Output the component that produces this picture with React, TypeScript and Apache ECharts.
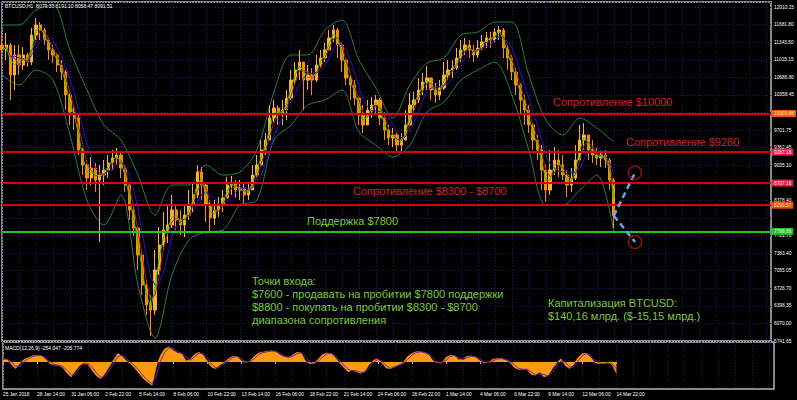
import React, { useEffect, useRef } from 'react';
import * as echarts from 'echarts';

// ---------- DATA ----------
// time labels every 64 hours (8 bars of 8 h), first bar 25 Jan 2018 22:00
const TIME_LABELS = ['25 Jan 2018', '28 Jan 14:00', '31 Jan 06:00', '2 Feb 22:00', '5 Feb 14:00', '8 Feb 06:00', '10 Feb 22:00', '13 Feb 14:00', '16 Feb 06:00', '18 Feb 22:00', '21 Feb 14:00', '24 Feb 06:00', '26 Feb 22:00', '1 Mar 14:00', '4 Mar 06:00', '6 Mar 22:00', '9 Mar 14:00', '12 Mar 06:00', '14 Mar 22:00'];

const PRICE_LABELS = ['5741.65', '6070.00', '6398.35', '6726.70', '7055.05', '7383.40', '7721.70', '8050.05', '8378.40', '8706.75', '9035.10', '9362.45', '9701.75', '10030.10', '10358.45', '10686.80', '11015.15', '11343.50', '11681.80', '12010.15'];
const PRICE_MIN = 5741.65;
const PRICE_STEP = 329.92;
const PRICE_MAX = 12104.7;

const MACD_TICKS = [337.455, 0, -498.85];
const MACD_TICK_LABELS = ['337.455', '0.00', '-498.85'];
const MACD_MIN = -611.87;
const MACD_MAX = 450.47;

// 8-hour candles: [open, close, low, high]
const CANDLES: number[][] = [
  [11297, 11204, 10922, 11485], [11204, 11297, 11016, 11523], [11297, 10734, 10265, 11335], [10734, 11110, 10453, 11297],
  [11110, 10922, 10734, 11297], [10922, 11110, 10828, 11260], [11110, 10978, 10885, 11147], [10978, 11485, 10922, 11617],
  [11485, 11673, 11391, 11804], [11673, 11579, 11391, 11729], [11579, 11391, 11297, 11617], [11391, 11204, 11016, 11429],
  [11204, 11110, 10959, 11297], [11110, 10922, 10791, 11147], [10922, 10791, 10640, 11016], [10791, 10359, 10077, 10828],
  [10359, 10040, 9796, 10396], [10040, 9927, 9702, 10171], [9927, 9327, 9233, 9983], [9327, 9045, 8857, 9364],
  [9045, 8801, 8576, 9139], [8801, 8989, 8670, 9195], [8989, 8763, 8538, 9082], [8763, 8857, 7600, 9045],
  [8857, 8951, 8670, 9139], [8951, 9082, 8801, 9233], [9082, 9176, 8951, 9327], [9176, 9233, 9045, 9364],
  [9233, 8989, 8801, 9289], [8989, 8670, 8538, 9045], [8670, 8200, 8013, 8707], [8200, 7862, 7712, 8294],
  [7862, 7356, 7074, 7881], [7356, 6793, 6605, 7450], [6793, 6417, 6230, 6886], [6417, 6323, 5835, 6605],
  [6323, 7074, 6230, 7450], [7074, 7543, 6980, 7881], [7543, 7825, 7450, 8163], [7825, 7919, 7581, 8294],
  [7919, 8200, 7862, 8482], [8200, 8013, 7825, 8294], [8013, 7919, 7731, 8200], [7919, 8106, 7694, 8294],
  [8106, 8294, 8013, 8576], [8294, 8482, 8163, 8707], [8482, 8914, 8425, 9045], [8914, 8670, 8388, 9007],
  [8670, 8294, 7975, 8707], [8294, 8050, 7787, 8388], [8050, 8200, 7919, 8388], [8200, 8294, 8069, 8444],
  [8294, 8425, 8163, 8576], [8425, 8670, 8425, 8820], [8670, 8707, 8482, 8838], [8707, 8576, 8425, 8763],
  [8576, 8613, 8388, 8763], [8613, 8482, 8332, 8707], [8482, 8576, 8388, 8726], [8576, 8857, 8576, 9045],
  [8857, 9045, 8801, 9233], [9045, 9327, 9045, 9514], [9327, 9514, 9233, 9646], [9514, 9927, 9514, 10171],
  [9927, 10115, 9852, 10265], [10115, 9983, 9796, 10171], [9983, 10077, 9796, 10265], [10077, 10303, 9890, 10453],
  [10303, 10640, 10265, 10828], [10640, 10828, 10547, 10978], [10828, 10978, 10640, 11204], [10978, 10640, 10077, 10978],
  [10640, 10734, 10453, 10922], [10734, 10640, 10359, 10866], [10640, 10922, 10603, 11110], [10922, 11053, 10866, 11204],
  [11053, 11204, 10978, 11335], [11204, 11429, 11204, 11579], [11429, 11579, 11354, 11673], [11579, 11297, 11053, 11617],
  [11297, 11016, 10791, 11335], [11016, 10678, 10547, 11053], [10678, 10547, 10265, 10734], [10547, 10303, 10171, 10640],
  [10303, 9983, 9796, 10303], [9983, 9796, 9646, 10171], [9796, 10077, 9796, 10265], [10077, 10171, 9927, 10321],
  [10171, 10265, 9983, 10359], [10265, 9927, 9796, 10303], [9927, 9702, 9514, 10040], [9702, 9552, 9420, 9796],
  [9552, 9608, 9383, 9740], [9608, 9420, 9270, 9664], [9420, 9514, 9270, 9646], [9514, 9796, 9514, 10077],
  [9796, 10171, 9796, 10396], [10171, 10265, 10040, 10415], [10265, 10453, 10209, 10678], [10453, 10603, 10359, 10772],
  [10603, 10678, 10453, 10903], [10678, 10453, 10265, 10678], [10453, 10359, 10209, 10584], [10359, 10490, 10265, 10640],
  [10490, 10734, 10453, 10978], [10734, 10828, 10640, 11016], [10828, 10866, 10678, 11016], [10866, 11053, 10828, 11241],
  [11053, 11204, 10978, 11391], [11204, 11297, 11110, 11429], [11297, 11204, 11053, 11391], [11204, 11110, 10978, 11297],
  [11110, 11241, 11053, 11391], [11241, 11354, 11204, 11485], [11354, 11429, 11241, 11541], [11429, 11391, 11241, 11541],
  [11391, 11541, 11354, 11617], [11541, 11579, 11391, 11654], [11579, 11241, 11053, 11617], [11241, 11053, 10828, 11297],
  [11053, 10791, 10640, 11110], [10791, 10547, 10359, 10866], [10547, 10265, 9983, 10584], [10265, 10077, 9796, 10359],
  [10077, 9796, 9646, 10171], [9796, 9514, 9327, 9833], [9514, 9327, 9139, 9608], [9327, 8951, 8576, 9420],
  [8951, 8576, 8350, 9045], [8576, 8951, 8482, 9327], [8951, 9139, 8857, 9383], [9139, 9045, 8820, 9327],
  [9045, 8857, 8763, 9233], [8857, 8670, 8444, 8951], [8670, 8801, 8538, 8989], [8801, 9139, 8763, 9420],
  [9139, 9514, 9139, 9796], [9514, 9608, 9327, 9833], [9608, 9327, 9139, 9608], [9327, 9233, 9082, 9514],
  [9233, 9176, 9045, 9364], [9176, 9233, 9007, 9327], [9233, 9139, 8989, 9327], [9139, 8763, 8576, 9176],
  [8763, 8091.51, 7862, 8800],
];

// Bollinger bands, read every 4 bars
const BB_STEP = 4;
const BB_UPPER = [11673, 11673, 11954, 12048, 11204, 10453, 9796, 9514, 8857, 8106, 8670, 8670, 9045, 8857, 8914, 9327, 10415, 11110, 11110, 11579, 11767, 11016, 10490, 9927, 10547, 10959, 11053, 11485, 11541, 11729, 11729, 10734, 9890, 9608, 9927, 9740, 9477];
const BB_LOWER = [10734, 10547, 10828, 10640, 9608, 8388, 7919, 8482, 6793, 5798, 6980, 7637, 7787, 7825, 8294, 8388, 9514, 9796, 10171, 10265, 10453, 9665, 9420, 9195, 9420, 10040, 10227, 10640, 10828, 10978, 10359, 9327, 8294, 8294, 8576, 8857, 7787];

// MACD main values per bar
const MACD = [
  60, 60, -60, -150, -30, 60, 100, 140, 150, 140,
  60, -30, -70, -75, -120, -250, -340, -200, -80, -20,
  -60, -200, -320, -380, -250, -100, 50, 190, 120, 20,
  -40, -150, -260, -380, -460, -527, -100, 150, 300, 340,
  260, 200, 180, 20, 60, 170, 220, 150, 10, -120,
  -150, -60, -10, 80, 130, 120, 20, -10, 20, 130,
  200, 220, 240, 250, 230, 160, 110, 100, 150, 220,
  200, 20, -30, -40, 60, 160, 200, 190, 100, -20,
  -120, -220, -180, -220, -260, -200, -60, 40, 70, -30,
  -140, -150, -90, -60, -10, 120, 190, 230, 230, 200,
  150, 20, -20, -20, 100, 150, 140, 50, 60, 130,
  130, 100, 20, -20, -10, 60, 75, 75, 40, -10,
  -120, -170, -160, -170, -280, -300, -230, -340, -300, -150,
  -20, 70, -80, -150, -60, 100, 190, 190, 100, -20,
  -40, -30, -20, -60, -254,
];

const LEVEL_PRICES = [10009.88, 9287.18, 8707.16, 8290.57, 7798.86];
const LAST_PRICE = 8091.51;
const PROJ_X = [144, 149];
const PROJ_UP = [8091.51, 8900];
const PROJ_DOWN = [8091.51, 7600];

// ---------- STYLES ----------
const N_CATEGORIES = 182;
const FONT = '"Liberation Sans", Arial, sans-serif';
const GRID_COLOR = '#1e1e66';
const FRAME = '#b4b4b4';
const LEVEL_LINE_COLORS = ['#d80000', '#d80000', '#d80000', '#e00000', '#22c422'];
const LEVEL_TAG_BG = ['#ff5a00', '#e8204f', '#e01f4a', '#ff4800', '#22c422'];
const LEVEL_TAG_TEXT = ['#ffe6d0', '#ffe0e8', '#ffe0e8', '#ffe6d0', '#d8ffd8'];
const RED_TEXT = '#d42020';
const GREEN_TEXT = '#7cc83c';
const TAG_COVER = 60; // price distance under which an axis label is hidden by a price tag

const ANNOTATIONS = [
  { text: 'Сопротивление $10000', x: 553, y: 102, color: RED_TEXT },
  { text: 'Сопротивление $9280', x: 626, y: 142, color: RED_TEXT },
  { text: 'Сопротивление $8300 - $8700', x: 353, y: 191, color: RED_TEXT },
  { text: 'Поддержка $7800', x: 307, y: 221, color: GREEN_TEXT },
  { text: 'Точки входа:', x: 252, y: 281, color: GREEN_TEXT },
  { text: '$7600 - продавать на пробитии $7800 поддержки', x: 252, y: 294, color: GREEN_TEXT },
  { text: '$8800 - покупать на пробитии $8300 - $8700', x: 252, y: 307, color: GREEN_TEXT },
  { text: 'диапазона сопротивления', x: 252, y: 320, color: GREEN_TEXT },
  { text: 'Капитализация BTCUSD:', x: 548, y: 303, color: GREEN_TEXT },
  { text: '$140,16 млрд. ($-15,15 млрд.)', x: 548, y: 316, color: GREEN_TEXT },
];

function movingAverage(period: number) {
  return CANDLES.map((_, i) => {
    const from = Math.max(0, i - period + 1);
    let s = 0;
    for (let k = from; k <= i; k++) s += CANDLES[k][1];
    return +(s / (i - from + 1)).toFixed(2);
  });
}

export default function App() {
  const ref = useRef<HTMLDivElement>(null);

  useEffect(() => {
    if (!ref.current) return;
    const chart = echarts.init(ref.current, undefined, { renderer: 'svg' });
    const categories = Array.from({ length: N_CATEGORIES }, (_, i) => String(i));
    const lastLabelIndex = (TIME_LABELS.length - 1) * 8;
    const labelInterval = (index: number) => index % 8 === 0 && index <= lastLabelIndex;
    const signal = MACD.map((v, i) => (i > 0 ? (v + MACD[i - 1]) / 2 : v));
    const tagPrices = [...LEVEL_PRICES, LAST_PRICE];

    const splitLineStyle = { color: GRID_COLOR, type: [1, 2] as any, width: 1 };

    const option: any = {
      backgroundColor: '#000000',
      animation: false,
      grid: [
        { left: 2, right: 23, top: 2, height: 339, show: true, borderColor: FRAME, borderWidth: 1.5 },
        { left: 2, right: 23, top: 342, height: 47, show: true, borderColor: FRAME, borderWidth: 1.5 },
      ],
      xAxis: [
        {
          type: 'category', gridIndex: 0, data: categories, boundaryGap: false,
          axisLine: { show: false }, axisTick: { show: false }, axisLabel: { show: false },
          splitLine: { show: true, interval: 3, lineStyle: splitLineStyle },
        },
        {
          type: 'category', gridIndex: 1, data: categories, boundaryGap: false,
          axisLine: { show: false },
          axisTick: { show: true, interval: labelInterval, length: 2, lineStyle: { color: FRAME } },
          axisLabel: {
            show: true, interval: labelInterval, color: '#ffffff', fontSize: 4.8, fontFamily: FONT,
            align: 'left', margin: 3,
            formatter: (_v: string, idx: number) => (idx % 8 === 0 ? TIME_LABELS[idx / 8] ?? '' : ''),
          },
          splitLine: { show: true, interval: 3, lineStyle: splitLineStyle },
        },
      ],
      yAxis: [
        { type: 'value', gridIndex: 0, min: PRICE_MIN, max: PRICE_MAX, show: false },
        {
          type: 'value', gridIndex: 0, position: 'right', min: 0, max: (PRICE_MAX - PRICE_MIN) / PRICE_STEP, interval: 1,
          axisLine: { show: false }, axisTick: { show: false },
          axisLabel: {
            color: '#ffffff', fontSize: 4.8, fontFamily: FONT, margin: 3,
            formatter: (v: number) => {
              const k = Math.round(v);
              if (Math.abs(v - k) > 1e-6 || !PRICE_LABELS[k]) return '';
              const price = PRICE_MIN + k * PRICE_STEP;
              if (tagPrices.some((t) => Math.abs(t - price) < TAG_COVER)) return '';
              return PRICE_LABELS[k];
            },
          },
          splitLine: { show: true, lineStyle: splitLineStyle },
        },
        { type: 'value', gridIndex: 1, min: MACD_MIN, max: MACD_MAX, show: false },
      ],
      series: [
        {
          type: 'line', xAxisIndex: 0, yAxisIndex: 0, symbol: 'none', smooth: 0.3,
          data: BB_UPPER.map((v, k) => [k * BB_STEP, v]),
          lineStyle: { color: '#2c7c4c', width: 1 }, z: 2,
        },
        {
          type: 'line', xAxisIndex: 0, yAxisIndex: 0, symbol: 'none', smooth: 0.3,
          data: BB_LOWER.map((v, k) => [k * BB_STEP, v]),
          lineStyle: { color: '#2c7c4c', width: 1 }, z: 2,
        },
        {
          type: 'candlestick', xAxisIndex: 0, yAxisIndex: 0, data: CANDLES, barWidth: 2.8,
          itemStyle: { color: '#ffb030', color0: '#ff8c00', borderColor: '#ffb030', borderColor0: '#ff8c00', borderWidth: 1 },
          z: 3,
          markLine: {
            silent: true, symbol: 'none', animation: false,
            data: [
              ...LEVEL_PRICES.map((v, k) => ({
                yAxis: v,
                lineStyle: { color: LEVEL_LINE_COLORS[k], width: 2, type: 'solid' },
                label: {
                  show: true, position: 'end', distance: 1, formatter: v.toFixed(2),
                  backgroundColor: LEVEL_TAG_BG[k], color: LEVEL_TAG_TEXT[k],
                  fontSize: 4.8, fontFamily: FONT, padding: [1, 2, 1, 2],
                },
              })),
              {
                yAxis: LAST_PRICE,
                lineStyle: { opacity: 0, width: 0 },
                label: {
                  show: true, position: 'end', distance: 1, formatter: LAST_PRICE.toFixed(2),
                  backgroundColor: '#ffffff', color: '#000000',
                  fontSize: 4.8, fontFamily: FONT, padding: [1, 2, 1, 2],
                },
              },
            ],
          },
        },
        {
          type: 'line', xAxisIndex: 0, yAxisIndex: 0, symbol: 'none', data: movingAverage(5),
          lineStyle: { color: '#1a1ad0', width: 1 }, z: 4,
        },
        {
          type: 'line', xAxisIndex: 0, yAxisIndex: 0, symbol: 'none', data: movingAverage(3),
          lineStyle: { color: '#c81010', width: 1 }, z: 4,
        },
        {
          type: 'line', xAxisIndex: 0, yAxisIndex: 0, symbol: 'none', data: movingAverage(2),
          lineStyle: { color: '#18c818', width: 1 }, z: 4,
        },
        {
          type: 'line', xAxisIndex: 0, yAxisIndex: 0, symbol: 'none',
          data: PROJ_X.map((x, k) => [x, PROJ_UP[k]]),
          lineStyle: { color: '#6fa4dc', width: 2.5, type: [6, 4] }, z: 6,
        },
        {
          type: 'line', xAxisIndex: 0, yAxisIndex: 0, symbol: 'none',
          data: PROJ_X.map((x, k) => [x, PROJ_DOWN[k]]),
          lineStyle: { color: '#6fa4dc', width: 2.5, type: [6, 4] }, z: 6,
        },
        {
          type: 'scatter', xAxisIndex: 0, yAxisIndex: 0, symbol: 'circle', symbolSize: 13,
          data: [[PROJ_X[1], PROJ_UP[1]], [PROJ_X[1], PROJ_DOWN[1]]],
          itemStyle: { color: 'rgba(0,0,0,0)', borderColor: '#d01010', borderWidth: 1.3 }, z: 7,
        },
        {
          type: 'line', xAxisIndex: 1, yAxisIndex: 2, symbol: 'none', data: MACD, clip: true,
          lineStyle: { color: '#ff9a10', width: 0.6 },
          areaStyle: { color: '#ff9a10', opacity: 1 },
          z: 3,
          markLine: {
            silent: true, symbol: 'none', animation: false,
            data: MACD_TICKS.map((v, k) => ({
              yAxis: v,
              lineStyle: { opacity: 0, width: 0 },
              label: {
                show: true, position: 'end', distance: 2, formatter: MACD_TICK_LABELS[k],
                color: '#ffffff', fontSize: 4.8, fontFamily: FONT,
              },
            })),
          },
        },
        {
          type: 'line', xAxisIndex: 1, yAxisIndex: 2, symbol: 'none', data: signal,
          lineStyle: { color: '#7a1aa8', width: 1 }, z: 4,
        },
      ],
      graphic: [
        {
          type: 'text', x: 5, y: 6, z: 20,
          style: { text: 'BTCUSD,H1  8079.33 8191.10 8058.47 8091.51', fill: '#ffffff', fontSize: 5, fontFamily: FONT, verticalAlign: 'middle' },
        },
        {
          type: 'text', x: 5, y: 347.5, z: 20,
          style: { text: 'MACD(12,26,9) -254.047 -205.774', fill: '#ffffff', fontSize: 5, fontFamily: FONT, verticalAlign: 'middle' },
        },
        ...ANNOTATIONS.map((a) => ({
          type: 'text', x: a.x, y: a.y, z: 20,
          style: { text: a.text, fill: a.color, fontSize: 11, fontFamily: FONT, verticalAlign: 'middle' },
        })),
      ],
    };
    chart.setOption(option);
    return () => chart.dispose();
  }, []);

  return (
    <div
      ref={ref}
      style={{ position: 'absolute', left: 0, top: 0, width: 797, height: 400, background: '#000' }}
    />
  );
}
